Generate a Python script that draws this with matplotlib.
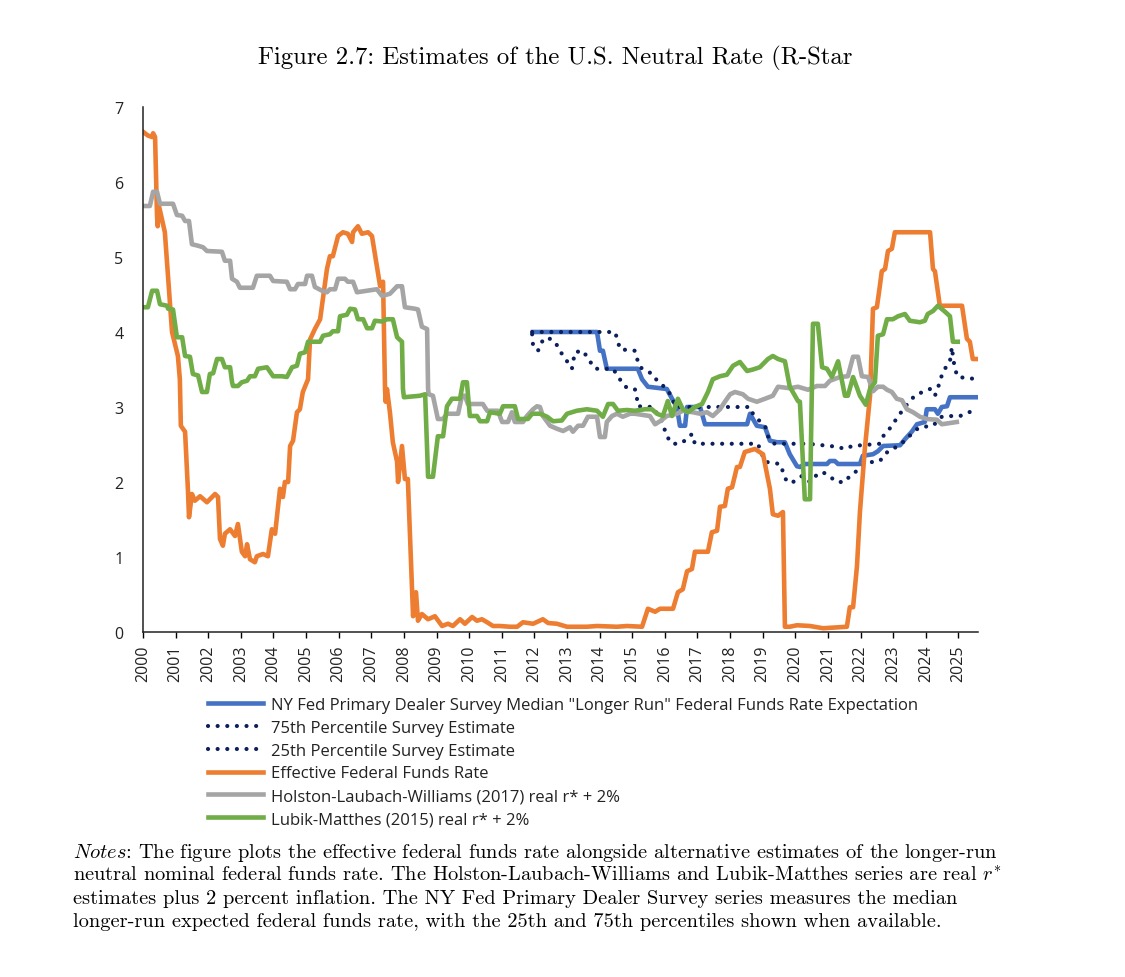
import matplotlib
matplotlib.use("Agg")
import matplotlib.pyplot as plt

# --- data (x in fractional years, y in percent) ---
eff_x = [2000.00, 2000.15, 2000.28, 2000.31, 2000.37, 2000.43, 2000.45, 2000.49, 2000.67, 2000.89,
         2001.07, 2001.13, 2001.16, 2001.29, 2001.38, 2001.41, 2001.50, 2001.59, 2001.75, 2001.96,
         2002.21, 2002.30, 2002.36, 2002.45, 2002.51, 2002.67, 2002.82, 2002.91, 2003.03, 2003.13,
         2003.19, 2003.28, 2003.43, 2003.49, 2003.68, 2003.83, 2003.95, 2004.05, 2004.20, 2004.29,
         2004.35, 2004.45, 2004.51, 2004.60, 2004.72, 2004.81, 2004.90, 2005.06, 2005.12, 2005.27,
         2005.43, 2005.64, 2005.73, 2005.82, 2005.98, 2006.13, 2006.28, 2006.41, 2006.44, 2006.59,
         2006.71, 2006.90, 2007.02, 2007.17, 2007.27, 2007.36, 2007.42, 2007.44, 2007.48, 2007.57,
         2007.66, 2007.79, 2007.82, 2007.94, 2008.03, 2008.12, 2008.25, 2008.28, 2008.37, 2008.43,
         2008.55, 2008.74, 2008.95, 2009.17, 2009.35, 2009.50, 2009.72, 2009.87, 2010.09, 2010.24,
         2010.39, 2010.55, 2010.73, 2010.94, 2011.25, 2011.47, 2011.65, 2011.96, 2012.26, 2012.42,
         2012.69, 2013.00, 2013.61, 2013.92, 2014.53, 2014.84, 2015.30, 2015.48, 2015.70, 2015.85,
         2016.25, 2016.40, 2016.55, 2016.68, 2016.83, 2016.92, 2017.32, 2017.44, 2017.60, 2017.69,
         2017.84, 2017.93, 2018.06, 2018.21, 2018.30, 2018.45, 2018.76, 2019.01, 2019.22, 2019.31,
         2019.47, 2019.62, 2019.68, 2019.83, 2020.05, 2020.45, 2020.85, 2021.58, 2021.67, 2021.77,
         2021.89, 2021.98, 2022.13, 2022.29, 2022.38, 2022.50, 2022.59, 2022.65, 2022.75, 2022.84,
         2022.96, 2023.05, 2024.13, 2024.22, 2024.28, 2024.43, 2025.11, 2025.26, 2025.35, 2025.44,
         2025.60]
eff_y = [6.67, 6.62, 6.60, 6.65, 6.60, 5.55, 5.41, 5.68, 5.33, 4.00,
         3.68, 3.37, 2.75, 2.67, 1.87, 1.53, 1.84, 1.75, 1.81, 1.73,
         1.84, 1.80, 1.24, 1.15, 1.31, 1.37, 1.28, 1.44, 1.07, 1.01,
         1.17, 0.97, 0.93, 1.01, 1.04, 1.01, 1.37, 1.31, 1.91, 1.80,
         2.00, 2.00, 2.48, 2.55, 2.93, 2.97, 3.20, 3.37, 3.90, 4.04,
         4.17, 4.84, 5.01, 5.01, 5.28, 5.33, 5.31, 5.20, 5.33, 5.41,
         5.31, 5.33, 5.28, 4.88, 4.61, 4.67, 3.24, 3.07, 3.24, 2.93,
         2.53, 2.27, 2.00, 2.48, 2.04, 2.04, 0.53, 0.21, 0.53, 0.15,
         0.24, 0.17, 0.21, 0.08, 0.11, 0.08, 0.17, 0.11, 0.20, 0.15,
         0.17, 0.13, 0.08, 0.08, 0.07, 0.07, 0.13, 0.11, 0.17, 0.12,
         0.11, 0.07, 0.07, 0.08, 0.07, 0.08, 0.07, 0.31, 0.27, 0.31,
         0.31, 0.53, 0.57, 0.81, 0.84, 1.07, 1.07, 1.33, 1.35, 1.67,
         1.68, 1.91, 1.93, 2.20, 2.20, 2.40, 2.44, 2.37, 1.91, 1.57,
         1.55, 1.60, 0.07, 0.07, 0.09, 0.08, 0.05, 0.07, 0.33, 0.33,
         0.88, 1.60, 2.44, 3.15, 4.31, 4.33, 4.61, 4.81, 4.84, 5.08,
         5.11, 5.33, 5.33, 4.84, 4.81, 4.35, 4.35, 3.91, 3.87, 3.64,
         3.64]

hlw_x = [2000.00, 2000.21, 2000.31, 2000.43, 2000.52, 2000.92, 2001.04, 2001.20, 2001.29, 2001.41,
         2001.50, 2001.69, 2001.84, 2001.96, 2002.42, 2002.51, 2002.67, 2002.73, 2002.88, 2002.97,
         2003.37, 2003.49, 2003.89, 2003.99, 2004.41, 2004.51, 2004.66, 2004.75, 2004.97, 2005.03,
         2005.18, 2005.27, 2005.49, 2005.64, 2005.73, 2005.89, 2005.98, 2006.19, 2006.28, 2006.44,
         2006.56, 2006.87, 2007.17, 2007.33, 2007.57, 2007.66, 2007.79, 2007.94, 2008.03, 2008.34,
         2008.43, 2008.55, 2008.71, 2008.74, 2008.76, 2008.89, 2009.04, 2009.20, 2009.32, 2009.66,
         2009.78, 2009.87, 2009.96, 2010.42, 2010.55, 2010.88, 2011.01, 2011.19, 2011.31, 2011.40,
         2011.65, 2011.77, 2011.96, 2012.08, 2012.17, 2012.26, 2012.48, 2012.69, 2012.88, 2013.09,
         2013.18, 2013.34, 2013.49, 2013.64, 2013.92, 2014.01, 2014.16, 2014.22, 2014.38, 2014.53,
         2014.71, 2014.93, 2015.08, 2015.54, 2015.70, 2015.85, 2016.06, 2016.37, 2016.55, 2016.86,
         2017.08, 2017.29, 2017.47, 2017.69, 2017.84, 2018.00, 2018.15, 2018.39, 2018.55, 2018.82,
         2019.07, 2019.31, 2019.47, 2019.83, 2020.08, 2020.39, 2020.66, 2020.91, 2021.06, 2021.37,
         2021.61, 2021.77, 2021.92, 2022.04, 2022.23, 2022.38, 2022.53, 2022.69, 2022.81, 2022.96,
         2023.11, 2023.27, 2023.42, 2023.61, 2023.82, 2024.03, 2024.34, 2024.49, 2024.65, 2024.95]
hlw_y = [5.68, 5.68, 5.87, 5.87, 5.71, 5.71, 5.56, 5.55, 5.48, 5.48,
         5.17, 5.15, 5.13, 5.08, 5.07, 4.95, 4.95, 4.71, 4.67, 4.59,
         4.59, 4.75, 4.75, 4.68, 4.67, 4.57, 4.57, 4.64, 4.64, 4.75,
         4.75, 4.60, 4.55, 4.53, 4.57, 4.57, 4.71, 4.71, 4.67, 4.67,
         4.53, 4.55, 4.57, 4.48, 4.51, 4.55, 4.61, 4.61, 4.33, 4.31,
         4.30, 4.07, 4.04, 3.24, 3.17, 3.15, 2.84, 2.84, 2.91, 2.91,
         3.15, 3.15, 3.04, 3.04, 2.95, 2.95, 2.80, 2.80, 2.93, 2.80,
         2.80, 2.88, 2.97, 3.01, 3.00, 2.88, 2.75, 2.71, 2.68, 2.73,
         2.67, 2.75, 2.75, 2.87, 2.87, 2.60, 2.60, 2.80, 2.88, 2.91,
         2.87, 2.91, 2.91, 2.88, 2.77, 2.81, 2.88, 2.91, 2.95, 2.93,
         2.91, 2.93, 2.88, 2.97, 3.07, 3.17, 3.20, 3.17, 3.11, 3.07,
         3.11, 3.15, 3.27, 3.25, 3.27, 3.23, 3.28, 3.28, 3.35, 3.40,
         3.41, 3.67, 3.67, 3.41, 3.40, 3.21, 3.27, 3.27, 3.23, 3.20,
         3.11, 3.09, 2.97, 2.93, 2.87, 2.84, 2.83, 2.77, 2.78, 2.80]

lm_x = [2000.00, 2000.15, 2000.28, 2000.43, 2000.52, 2000.74, 2000.77, 2000.92, 2001.04, 2001.20,
        2001.29, 2001.44, 2001.53, 2001.69, 2001.81, 2001.96, 2002.05, 2002.15, 2002.27, 2002.42,
        2002.51, 2002.67, 2002.73, 2002.76, 2002.91, 2003.03, 2003.19, 2003.28, 2003.43, 2003.53,
        2003.80, 2003.99, 2004.26, 2004.41, 2004.57, 2004.72, 2004.81, 2004.97, 2005.06, 2005.43,
        2005.52, 2005.73, 2005.82, 2005.98, 2006.04, 2006.25, 2006.35, 2006.50, 2006.59, 2006.75,
        2006.87, 2007.02, 2007.11, 2007.33, 2007.48, 2007.66, 2007.79, 2007.94, 2007.97, 2008.00,
        2008.49, 2008.65, 2008.74, 2008.89, 2009.04, 2009.20, 2009.32, 2009.47, 2009.72, 2009.81,
        2009.93, 2010.02, 2010.24, 2010.33, 2010.55, 2010.64, 2010.94, 2011.04, 2011.40, 2011.50,
        2011.80, 2011.93, 2012.17, 2012.39, 2012.57, 2012.84, 2013.00, 2013.30, 2013.61, 2013.92,
        2014.10, 2014.26, 2014.41, 2014.56, 2014.84, 2015.08, 2015.39, 2015.60, 2015.76, 2015.94,
        2016.09, 2016.22, 2016.31, 2016.40, 2016.55, 2016.71, 2016.92, 2017.14, 2017.32, 2017.47,
        2017.69, 2017.90, 2018.09, 2018.30, 2018.52, 2018.70, 2018.91, 2019.16, 2019.31, 2019.47,
        2019.68, 2019.83, 2020.08, 2020.14, 2020.29, 2020.45, 2020.54, 2020.69, 2020.82, 2020.97,
        2021.12, 2021.31, 2021.52, 2021.61, 2021.77, 2021.98, 2022.16, 2022.29, 2022.44, 2022.53,
        2022.69, 2022.81, 2022.99, 2023.15, 2023.36, 2023.51, 2023.82, 2023.97, 2024.06, 2024.22,
        2024.37, 2024.59, 2024.74, 2024.83, 2024.98]
lm_y = [4.33, 4.33, 4.55, 4.55, 4.37, 4.35, 4.31, 4.30, 3.93, 3.93,
        3.68, 3.67, 3.44, 3.42, 3.20, 3.20, 3.44, 3.45, 3.64, 3.64,
        3.53, 3.53, 3.33, 3.28, 3.28, 3.33, 3.35, 3.41, 3.41, 3.51,
        3.53, 3.41, 3.41, 3.40, 3.53, 3.55, 3.71, 3.73, 3.87, 3.87,
        3.95, 3.97, 4.01, 4.01, 4.21, 4.23, 4.31, 4.30, 4.17, 4.17,
        4.05, 4.05, 4.15, 4.14, 4.17, 4.17, 3.93, 3.87, 3.24, 3.13,
        3.15, 3.17, 2.07, 2.07, 2.61, 2.61, 3.01, 3.11, 3.11, 3.33,
        3.33, 2.88, 2.88, 2.81, 2.81, 2.93, 2.91, 3.01, 3.01, 2.84,
        2.84, 2.91, 2.91, 2.87, 2.81, 2.82, 2.91, 2.95, 2.97, 2.95,
        2.87, 3.04, 3.04, 2.95, 2.96, 2.95, 2.97, 2.97, 2.91, 2.88,
        3.08, 2.88, 3.00, 3.11, 2.97, 2.93, 3.00, 3.04, 3.20, 3.37,
        3.41, 3.43, 3.55, 3.60, 3.48, 3.50, 3.53, 3.64, 3.68, 3.64,
        3.61, 3.27, 3.08, 3.07, 1.77, 1.77, 4.11, 4.11, 3.53, 3.51,
        3.40, 3.61, 3.15, 3.15, 3.40, 3.15, 3.03, 3.24, 3.33, 3.95,
        3.97, 4.17, 4.17, 4.21, 4.24, 4.15, 4.13, 4.15, 4.24, 4.28,
        4.35, 4.27, 4.21, 3.87, 3.87]

med_x = [2011.96, 2013.92, 2014.01, 2014.10, 2014.22, 2015.17, 2015.30, 2015.48, 2016.06, 2016.22,
         2016.37, 2016.46, 2016.62, 2016.68, 2017.08, 2017.23, 2018.52, 2018.61, 2018.70, 2018.82,
         2019.07, 2019.22, 2019.44, 2019.68, 2019.83, 2020.05, 2020.14, 2020.29, 2020.97, 2021.06,
         2021.21, 2021.31, 2021.98, 2022.07, 2022.38, 2022.53, 2022.69, 2023.21, 2023.36, 2023.57,
         2023.73, 2023.97, 2024.03, 2024.28, 2024.37, 2024.49, 2024.65, 2024.74, 2025.60]
med_y = [4.00, 4.00, 3.75, 3.75, 3.51, 3.51, 3.37, 3.27, 3.24, 3.11,
         3.00, 2.75, 2.75, 3.00, 3.00, 2.77, 2.77, 2.91, 2.84, 2.75,
         2.73, 2.55, 2.53, 2.53, 2.37, 2.21, 2.20, 2.24, 2.24, 2.28,
         2.28, 2.24, 2.24, 2.35, 2.37, 2.41, 2.48, 2.49, 2.57, 2.67,
         2.77, 2.80, 2.97, 2.97, 2.91, 3.00, 3.01, 3.13, 3.13]

p75_x = [2011.93, 2014.47, 2014.56, 2014.62, 2015.08, 2015.17, 2015.24, 2015.48, 2015.63, 2015.76,
         2016.06, 2016.22, 2016.31, 2016.46, 2018.61, 2018.70, 2018.91, 2019.07, 2019.16, 2019.28,
         2019.37, 2020.39, 2021.28, 2021.52, 2021.74, 2022.59, 2022.69, 2022.84, 2023.21, 2023.36,
         2023.57, 2023.73, 2023.91, 2024.13, 2024.28, 2024.43, 2024.52, 2024.65, 2024.74, 2024.80,
         2024.83, 2024.89, 2024.98, 2025.60]
p75_y = [4.00, 4.00, 3.88, 3.77, 3.75, 3.61, 3.53, 3.47, 3.44, 3.35,
         3.24, 3.13, 3.01, 3.00, 3.00, 2.91, 2.81, 2.75, 2.61, 2.53,
         2.51, 2.51, 2.47, 2.44, 2.48, 2.51, 2.61, 2.68, 2.91, 3.00,
         3.11, 3.17, 3.20, 3.24, 3.15, 3.33, 3.47, 3.55, 3.61, 3.80,
         3.68, 3.51, 3.40, 3.37]

p25_x = [2011.93, 2011.96, 2012.11, 2012.23, 2012.39, 2012.63, 2012.84, 2013.00, 2013.15, 2013.24,
         2013.49, 2013.70, 2013.86, 2014.41, 2014.62, 2014.78, 2015.08, 2015.14, 2015.17, 2015.63,
         2015.91, 2016.06, 2016.22, 2016.46, 2016.68, 2016.83, 2016.92, 2018.85, 2019.07, 2019.53,
         2019.74, 2019.93, 2020.20, 2020.45, 2020.69, 2020.85, 2021.06, 2021.28, 2021.52, 2021.67,
         2021.89, 2022.13, 2022.38, 2022.59, 2022.84, 2023.11, 2023.42, 2023.61, 2023.82, 2024.22,
         2024.49, 2024.80, 2025.05, 2025.44, 2025.60]
p25_y = [3.97, 3.81, 3.75, 3.87, 3.93, 3.87, 3.71, 3.61, 3.51, 3.73,
         3.75, 3.61, 3.51, 3.51, 3.37, 3.27, 3.24, 3.13, 3.01, 3.00,
         2.81, 2.61, 2.51, 2.51, 2.57, 2.64, 2.51, 2.51, 2.27, 2.24,
         2.00, 2.00, 2.08, 2.00, 2.11, 2.13, 2.07, 2.00, 2.00, 2.08,
         2.15, 2.24, 2.27, 2.28, 2.41, 2.47, 2.57, 2.67, 2.73, 2.75,
         2.87, 2.88, 2.88, 2.95, 2.97]

years = list(range(2000, 2026))
yticks = list(range(0, 8))

labels = [
    'NY Fed Primary Dealer Survey Median "Longer Run" Federal Funds Rate Expectation',
    '75th Percentile Survey Estimate',
    '25th Percentile Survey Estimate',
    'Effective Federal Funds Rate',
    'Holston-Laubach-Williams (2017) real r* + 2%',
    'Lubik-Matthes (2015) real r* + 2%',
]
title = "Figure 2.7: Estimates of the U.S. Neutral Rate (R-Star"
notes = [
    r"$\mathit{Notes}$: The figure plots the effective federal funds rate alongside alternative estimates of the longer-run",
    r"neutral nominal federal funds rate. The Holston-Laubach-Williams and Lubik-Matthes series are real $r^{*}$",
    "estimates plus 2 percent inflation. The NY Fed Primary Dealer Survey series measures the median",
    "longer-run expected federal funds rate, with the 25th and 75th percentiles shown when available.",
]

plt.rcParams['mathtext.fontset'] = 'cm'
sans = ['Open Sans', 'DejaVu Sans']

fig = plt.figure(figsize=(11.25, 9.78), dpi=100)
ax = fig.add_axes([143 / 1125, 345 / 978, 835 / 1125, 525 / 978])

lw = 3.3
dot = (0, (0.01, 2.3))
ax.plot(med_x, med_y, color='#4472C4', lw=lw, label=labels[0])
ax.plot(p75_x, p75_y, color='#0B1F5C', lw=3.0, ls=dot, dash_capstyle='round', label=labels[1])
ax.plot(p25_x, p25_y, color='#0B1F5C', lw=3.0, ls=dot, dash_capstyle='round', label=labels[2])
ax.plot(eff_x, eff_y, color='#ED7D31', lw=lw, label=labels[3])
ax.plot(hlw_x, hlw_y, color='#A5A5A5', lw=lw, label=labels[4])
ax.plot(lm_x, lm_y, color='#70AD47', lw=lw, label=labels[5])

ax.set_xlim(2000, 2025.6)
ax.set_ylim(0, 7)
ax.set_xticks(years)
ax.set_xticklabels([str(y) for y in years], rotation=90, family=sans, fontsize=11.5, color='#222222')
ax.set_yticks(yticks)
ax.set_yticklabels([str(v) for v in yticks], family=sans, fontsize=11.5, color='#222222')
ax.tick_params(axis='x', direction='out', length=4, width=1, pad=5)
ax.tick_params(axis='y', length=0, pad=14)
for s in ['top', 'right']:
    ax.spines[s].set_visible(False)
for s in ['left', 'bottom']:
    ax.spines[s].set_linewidth(1.1)
    ax.spines[s].set_color('#222222')

leg = fig.legend(loc='upper left', bbox_to_anchor=(208 / 1125, 1 - 698 / 978),
                 frameon=False, prop={'family': sans, 'size': 12},
                 handlelength=3.3, handletextpad=0.5, labelspacing=0.41,
                 borderpad=0, borderaxespad=0)
for t in leg.get_texts():
    t.set_color('#222222')

fig.text(555 / 1125, 1 - 58 / 978, title, ha='center', va='center',
         family='cmr10', fontsize=17.8)
for i, line in enumerate(notes):
    fig.text(73 / 1125, 1 - (853 + 23 * i) / 978, line, ha='left', va='center',
             family='cmr10', fontsize=14.7)

fig.savefig('out.png', dpi=100)
